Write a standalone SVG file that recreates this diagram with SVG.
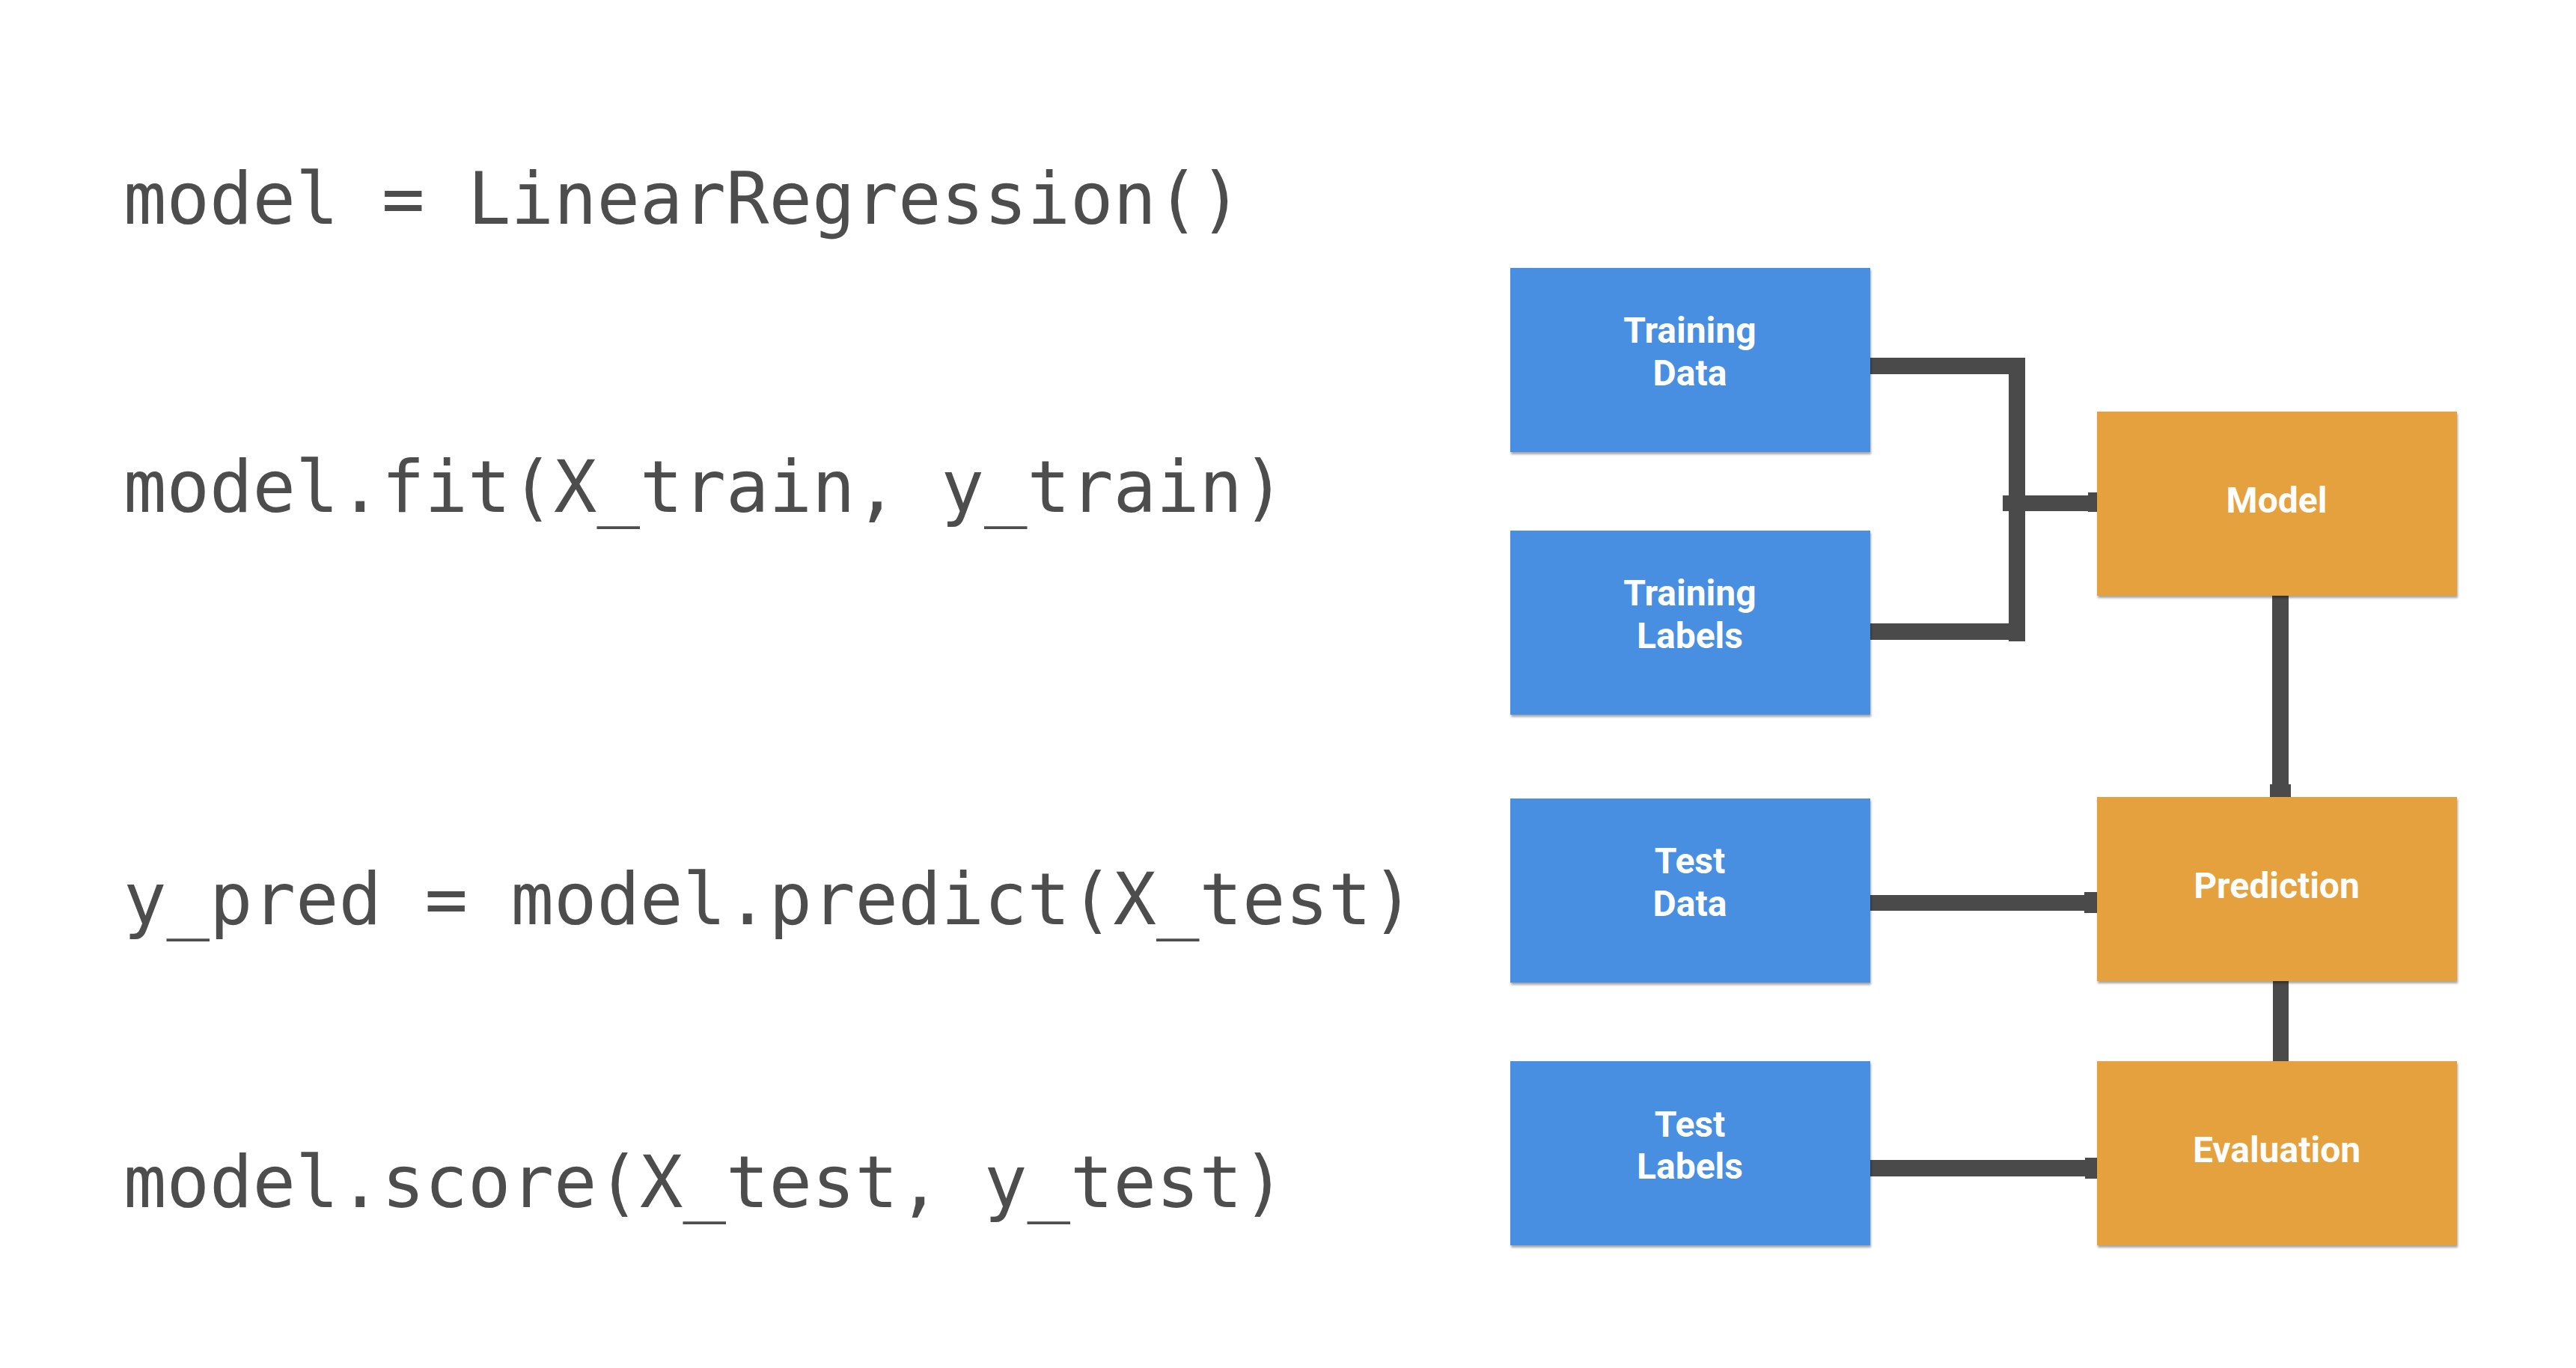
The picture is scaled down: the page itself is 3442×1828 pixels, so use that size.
<svg xmlns="http://www.w3.org/2000/svg" width="3442" height="1828" viewBox="0 0 3442 1828">
<defs>
<filter id="sh" x="-5%" y="-5%" width="110%" height="110%">
<feDropShadow dx="1" dy="3" stdDeviation="1.5" flood-color="#000" flood-opacity="0.35"/>
</filter>
<style>
.code{font-family:"DejaVu Sans Mono",monospace;font-size:95.5px;fill:#4d4d4d}
.blue{fill:#4a8fe1;filter:url(#sh)}
.orange{fill:#e5a13e;filter:url(#sh)}
.lbl{font-family:Roboto,"Liberation Sans",sans-serif;font-weight:bold;font-size:48px;fill:#fff;text-anchor:middle}
.c{fill:#4a4a4a}
</style>
</defs>
<rect width="3442" height="1828" fill="#fff"/>
<g id="code">
<text class="code" x="165" y="299">model = LinearRegression()</text>
<text class="code" x="165" y="684">model.fit(X_train, y_train)</text>
<text class="code" x="165" y="1235">y_pred = model.predict(X_test)</text>
<text class="code" x="165" y="1613">model.score(X_test, y_test)</text>
</g>
<g id="connectors">
<rect class="c" x="2499" y="478" width="207" height="22"/>
<rect class="c" x="2684" y="481" width="22" height="376"/>
<rect class="c" x="2499" y="833" width="207" height="22"/>
<rect class="c" x="2676" y="662" width="126" height="21"/>
<rect class="c" x="2790" y="658" width="12" height="26"/>
<rect class="c" x="3036" y="796" width="22" height="269"/>
<rect class="c" x="3033" y="1048" width="28" height="17"/>
<rect class="c" x="2499" y="1196" width="303" height="21"/>
<rect class="c" x="2785" y="1192" width="17" height="28"/>
<rect class="c" x="3037" y="1311" width="21" height="108"/>
<rect class="c" x="2499" y="1550" width="303" height="22"/>
<rect class="c" x="2786" y="1547" width="16" height="28"/>
</g>
<g id="training-data">
<rect class="blue" x="2018" y="358" width="481" height="246"/>
<text class="lbl" x="2258" y="458">Training</text>
<text class="lbl" x="2258" y="515">Data</text>
</g>
<g id="training-labels">
<rect class="blue" x="2018" y="709" width="481" height="246"/>
<text class="lbl" x="2258" y="809">Training</text>
<text class="lbl" x="2258" y="866">Labels</text>
</g>
<g id="test-data">
<rect class="blue" x="2018" y="1067" width="481" height="246"/>
<text class="lbl" x="2258" y="1167">Test</text>
<text class="lbl" x="2258" y="1224">Data</text>
</g>
<g id="test-labels">
<rect class="blue" x="2018" y="1418" width="481" height="246"/>
<text class="lbl" x="2258" y="1519">Test</text>
<text class="lbl" x="2258" y="1575">Labels</text>
</g>
<g id="model">
<rect class="orange" x="2802" y="550" width="481" height="246"/>
<text class="lbl" x="3042" y="685">Model</text>
</g>
<g id="prediction">
<rect class="orange" x="2802" y="1065" width="481" height="246"/>
<text class="lbl" x="3042" y="1200">Prediction</text>
</g>
<g id="evaluation">
<rect class="orange" x="2802" y="1418" width="481" height="246"/>
<text class="lbl" x="3042" y="1553">Evaluation</text>
</g>
</svg>
